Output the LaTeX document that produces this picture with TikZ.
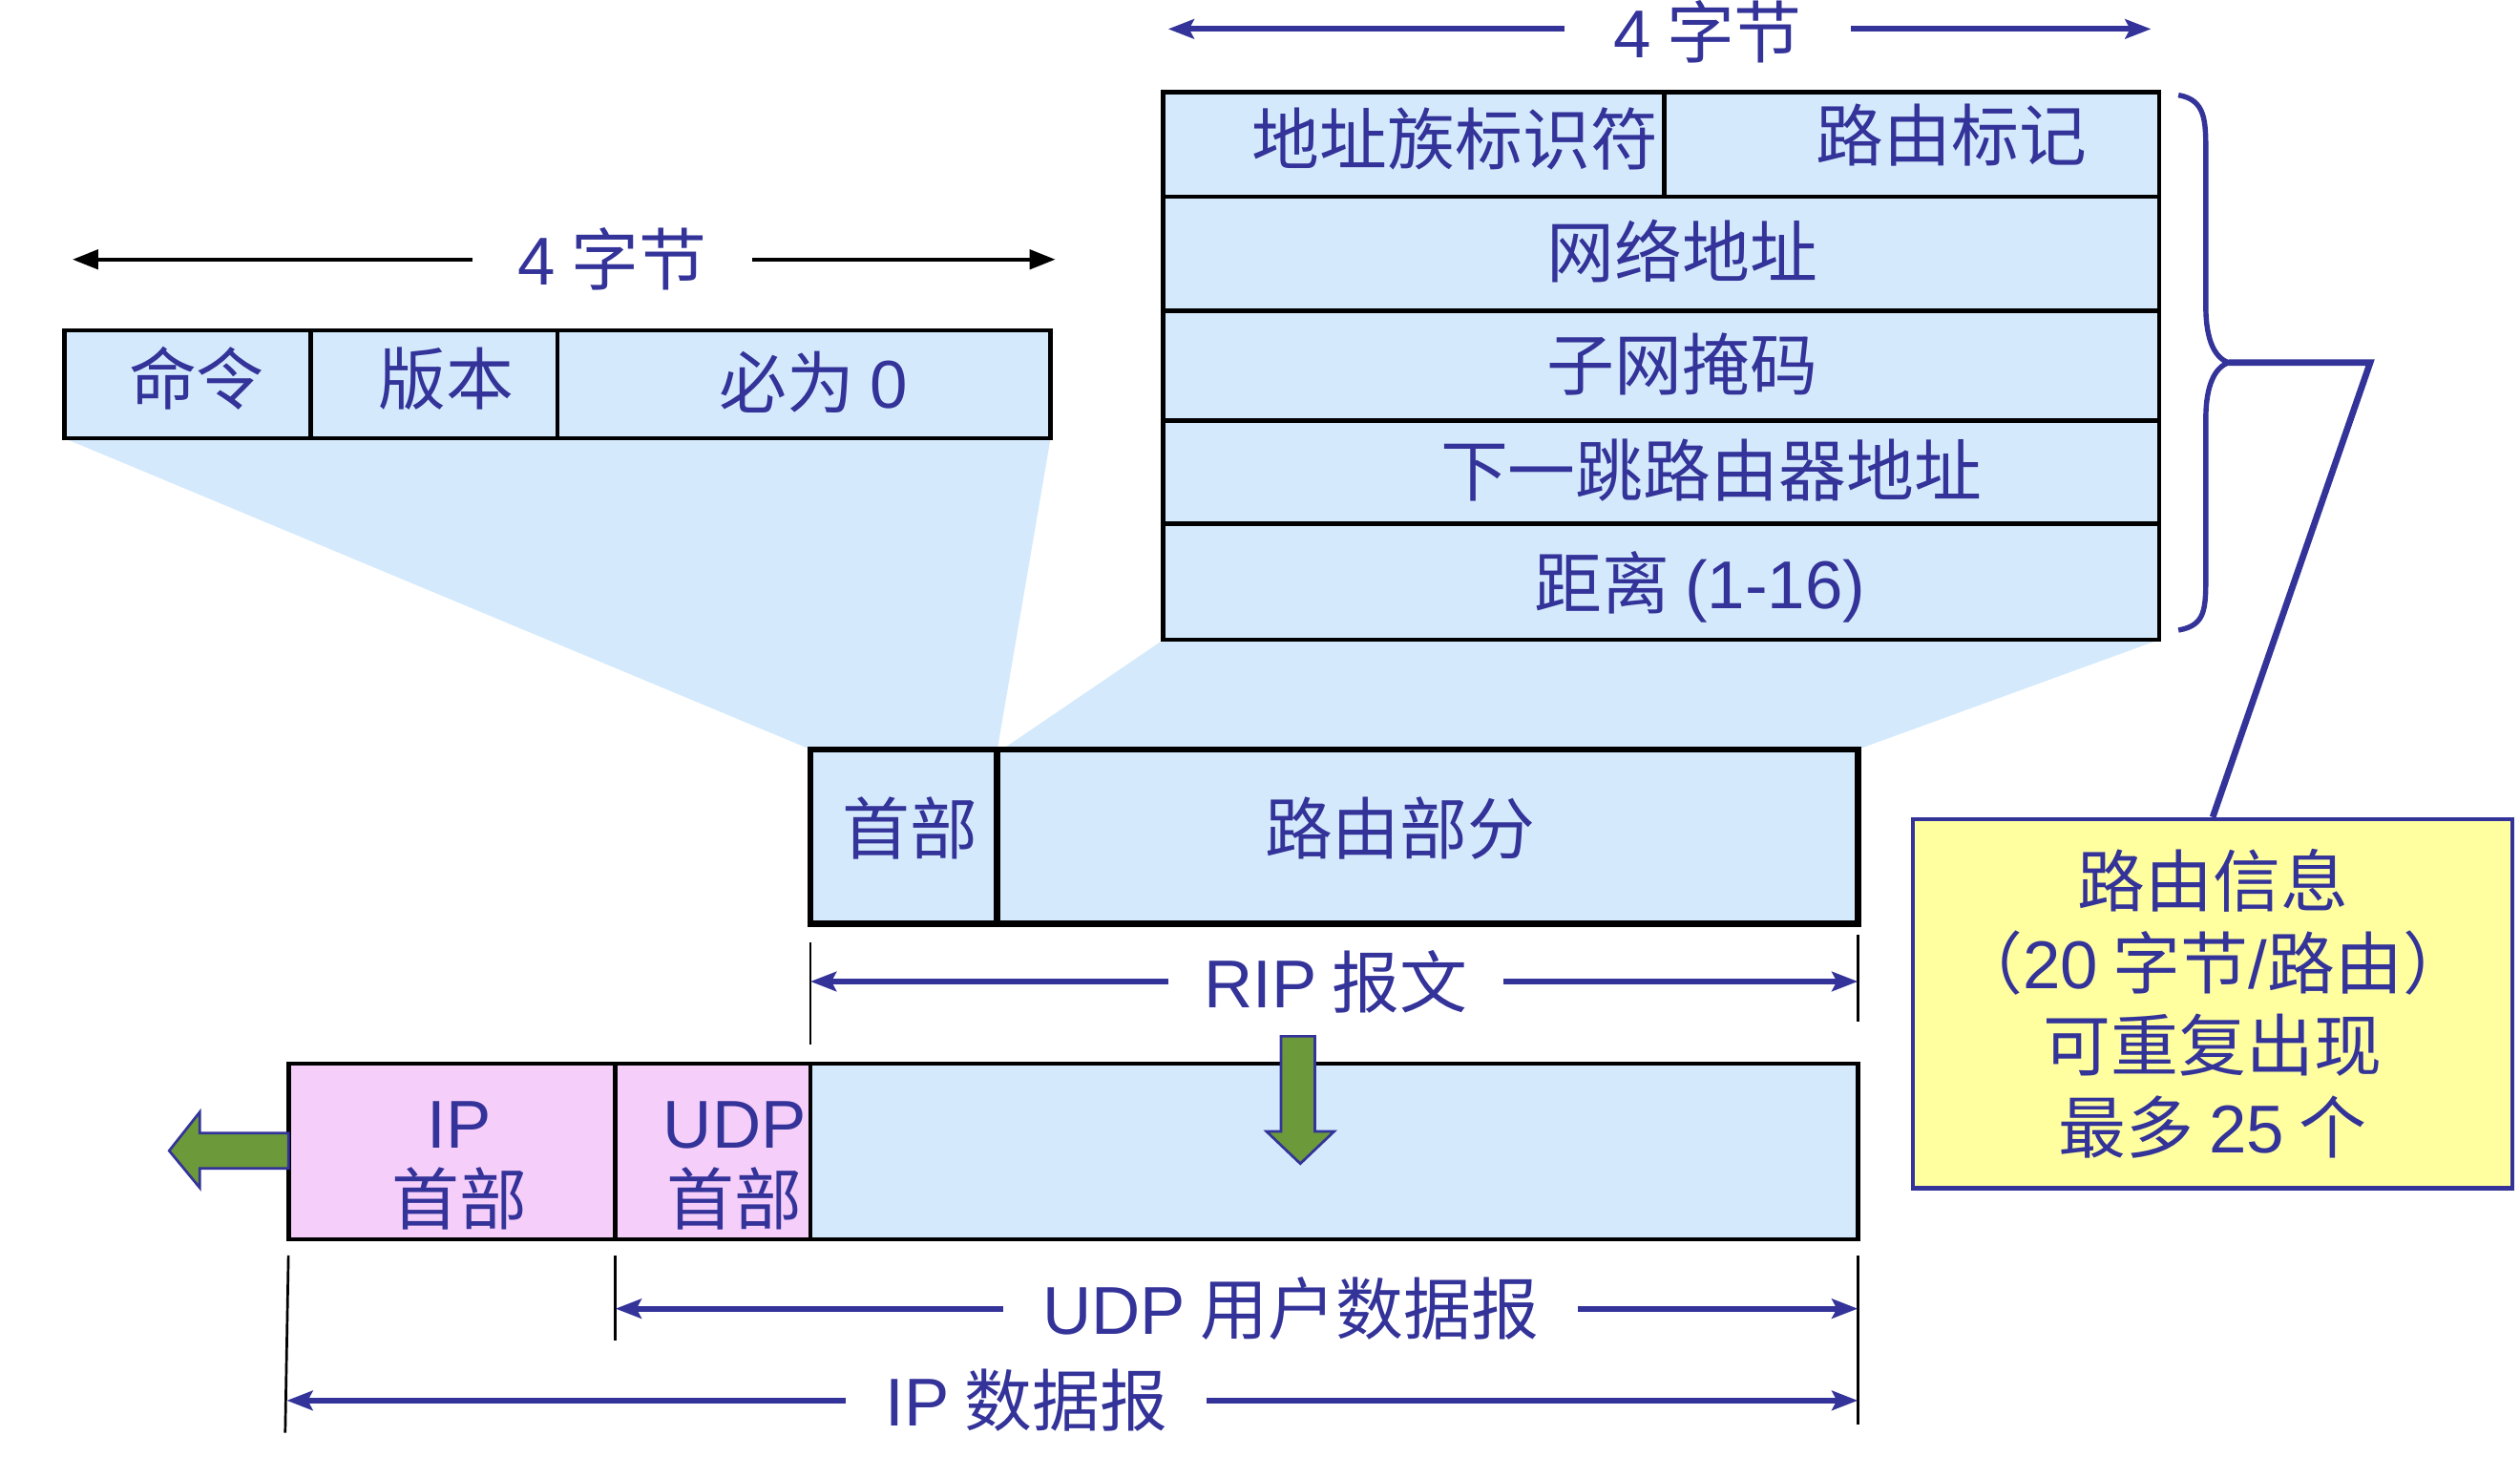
\documentclass[tikz,border=0pt]{standalone}
\usepackage{fontspec}
\setmainfont{Noto Sans CJK SC}
\newfontfamily\lat{Liberation Sans}
\usetikzlibrary{arrows.meta}
\pgfdeclarelayer{bg}
\pgfsetlayers{bg,main}
\definecolor{lblue}{RGB}{212,234,252}
\definecolor{pinkc}{RGB}{246,206,250}
\definecolor{yel}{RGB}{255,255,160}
\definecolor{dblue}{RGB}{51,51,153}
\definecolor{grn}{RGB}{108,154,58}
\tikzset{
  txt/.style={text=dblue, font=\fontsize{21}{25.5}\selectfont, inner sep=0pt},
  cellbox/.style={draw=black, line width=1.4pt, fill=lblue, anchor=north west, inner sep=0pt, outer sep=0pt},
  pinkbox/.style={cellbox, fill=pinkc},
  riprect/.style={cellbox, line width=2pt},
  dimlbl/.style={txt, inner xsep=12pt},
  barr/.style={draw=black, line width=1.2pt, -{Triangle[length=8pt,width=6pt]}},
  blarr/.style={draw=dblue, line width=1.8pt, -{Stealth[length=8pt,width=6pt,inset=1.5pt]}},
  tickline/.style={draw=black, line width=0.8pt},
  garrow/.style={fill=grn, draw=dblue, line width=0.8pt},
  bracestyle/.style={draw=dblue, line width=1.6pt},
}
\begin{document}
\begin{tikzpicture}[x=0.5pt,y=-0.5pt]
\useasboundingbox (0,0) rectangle (1564,904);

% ---------- left header box ----------
\node[cellbox, minimum width=76.5pt, minimum height=33.5pt] (cmd) at (40,205) {};
\node[cellbox, minimum width=76.5pt, minimum height=33.5pt] (ver) at (193,205) {};
\node[cellbox, minimum width=153pt, minimum height=33.5pt] (zero) at (346,205) {};
\node[txt] (cmdt) at (122,235) {命令};
\node[txt] (vert) at (277,235) {版本};
\node[txt] (zerot) at (505,237) {必为 {\lat 0}};

% top-left dimension
\node[txt, inner xsep=14pt] (dimA) at (380,161) {{\lat 4} 字节};
\coordinate (dimAL) at (45,161);
\coordinate (dimAR) at (655,161);
\draw[barr] (dimA) -- (dimAL);
\draw[barr] (dimA) -- (dimAR);

% ---------- right route entry box ----------
\node[cellbox, minimum width=155.5pt, minimum height=32.5pt] (afi) at (722,57) {};
\node[cellbox, minimum width=153.5pt, minimum height=32.5pt] (tag) at (1033,57) {};
\node[cellbox, minimum width=309pt, minimum height=35.5pt] (net) at (722,122) {};
\node[cellbox, minimum width=309pt, minimum height=34pt] (mask) at (722,193) {};
\node[cellbox, minimum width=309pt, minimum height=32pt] (nhop) at (722,261) {};
\node[cellbox, minimum width=309pt, minimum height=36pt] (dist) at (722,325) {};
\node[txt] (afit) at (903,86) {地址族标识符};
\node[txt] (tagt) at (1211,84) {路由标记};
\node[txt] (nett) at (1044,156) {网络地址};
\node[txt] (maskt) at (1044,226) {子网掩码};
\node[txt] (nhopt) at (1062,292) {下一跳路由器地址};
\node[txt] (distt) at (1055,364) {距离 {\lat (1-16)}};

% top-right dimension
\node[txt, inner xsep=15pt] (dimB) at (1060,20) {{\lat 4} 字节};
\coordinate (dimBL) at (725,18);
\coordinate (dimBR) at (1335,18);
\draw[blarr] (dimB.west |- dimBL) -- (dimBL);
\draw[blarr] (dimB.east |- dimBR) -- (dimBR);

% brace and connector
\draw[bracestyle] (1352,59) .. controls (1369,62) and (1369,75) .. (1369,95) -- (1369,190)
  .. controls (1369,212) and (1375,222) .. (1383,225)
  .. controls (1375,228) and (1369,238) .. (1369,260) -- (1369,356)
  .. controls (1369,378) and (1369,388) .. (1352,391);
\coordinate (btip) at (1383,225);
\coordinate (bend) at (1471,225);

% ---------- info box ----------
\node[txt, draw=dblue, line width=1.3pt, fill=yel, minimum width=186pt, minimum height=114.5pt,
      anchor=north west, align=center] (info) at (1186,507)
  {路由信息\\（{\lat 20} 字节{\lat /}路由）\\可重复出现\\最多 {\lat 25} 个};
\draw[draw=dblue, line width=2pt] (btip) -- (bend) -- (info.north);

% ---------- RIP message ----------
\node[riprect, minimum width=58pt, minimum height=54pt] (riphd) at (503,465) {};
\node[riprect, minimum width=267pt, minimum height=54pt] (riprt) at (619,465) {};
\node[txt] (riphdt) at (565,514) {首部};
\node[txt] (riprtt) at (869,514) {路由部分};

% fans
\begin{pgfonlayer}{bg}
\fill[lblue] (cmd.south west) -- (zero.south east) -- (riprt.north west) -- (riphd.north west) -- cycle;
\fill[lblue] (dist.south west) -- (dist.south east) -- (riprt.north east) -- ([xshift=1.5pt]riprt.north west) -- cycle;
\end{pgfonlayer}

% RIP dimension
\coordinate (r1) at (503,585); \coordinate (r2) at (503,648);
\coordinate (r3) at (1153,580); \coordinate (r4) at (1153,634);
\draw[tickline] (r1) -- (r2);
\draw[tickline] (r3) -- (r4);
\node[txt, inner xsep=11pt] (ripdim) at (829,609) {{\lat RIP} 报文};
\coordinate (ripL) at (503,609);
\coordinate (ripR) at (1153,609);
\draw[blarr] (ripdim) -- (ripL);
\draw[blarr] (ripdim) -- (ripR);

% ---------- IP / UDP datagram ----------
\node[pinkbox, minimum width=101.5pt, minimum height=54.5pt] (iph) at (179,660) {};
\node[pinkbox, minimum width=60.5pt, minimum height=54.5pt] (udph) at (382,660) {};
\node[cellbox, minimum width=325pt, minimum height=54.5pt] (data) at (503,660) {};
\node[txt] (ipt1) at (285,698) {\lat IP};
\node[txt] (ipt2) at (285,744) {首部};
\node[txt] (udpt1) at (456,698) {\lat UDP};
\node[txt] (udpt2) at (456,744) {首部};

% green arrows
\draw[garrow] (795,643) -- (816,643) -- (816,702) -- (828,702) -- (807,722) -- (786,702) -- (795,702) -- cycle;
\draw[garrow] (179,703) -- (124,703) -- (124,690) -- (105,714) -- (124,737) -- (124,725) -- (179,725) -- cycle;

% UDP dimension
\coordinate (u1) at (382,779); \coordinate (u2) at (382,832);
\coordinate (e1) at (1153,779); \coordinate (e2) at (1153,884);
\coordinate (i1) at (179,779); \coordinate (i2) at (177,889);
\draw[tickline] (u1) -- (u2);
\draw[tickline] (e1) -- (e2);
\draw[tickline] (i1) -- (i2);
\node[txt, inner xsep=12pt] (udpdim) at (801,812) {{\lat UDP} 用户数据报};
\coordinate (udpL) at (382,812);
\coordinate (udpR) at (1153,812);
\draw[blarr] (udpdim) -- (udpL);
\draw[blarr] (udpdim) -- (udpR);

% IP dimension
\node[txt, inner xsep=12pt] (ipdim) at (637,869) {{\lat IP} 数据报};
\coordinate (ipL) at (178,869);
\coordinate (ipR) at (1153,869);
\draw[blarr] (ipdim) -- (ipL);
\draw[blarr] (ipdim) -- (ipR);
\end{tikzpicture}
\end{document}
